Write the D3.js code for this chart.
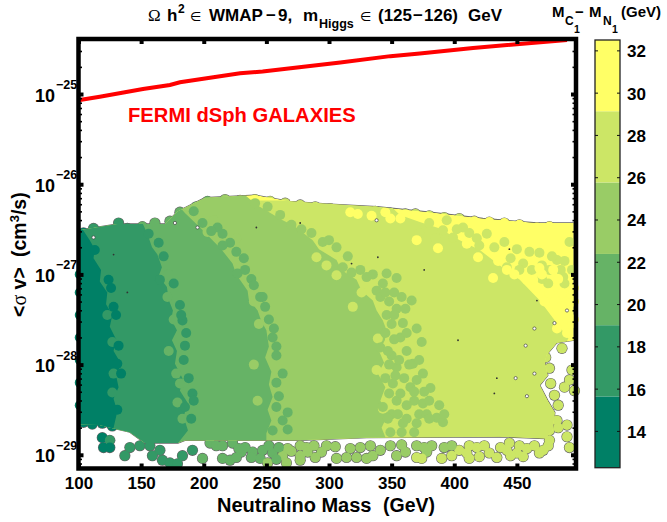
<!DOCTYPE html>
<html><head><meta charset="utf-8">
<script src="https://cdn.jsdelivr.net/npm/d3@7/dist/d3.min.js"></script>
<style>
html,body{margin:0;padding:0;background:#fff}
svg{display:block}
text{font-family:"Liberation Sans",Arial,sans-serif;font-weight:bold;fill:#000}
.sym{font-family:"Liberation Serif",serif;font-weight:normal}
.dj{font-family:"DejaVu Sans",sans-serif;font-weight:normal}
</style></head><body>
<svg id="c" width="667" height="522"></svg>
<script>
// ---- data (mass in GeV, log10 of <sigma v> in cm3/s, mass gap in GeV) ----
const xTicks=[100,150,200,250,300,350,400,450];
const yExponents=[-25,-26,-27,-28,-29];
const minorMultiples=[2,3,4,5,6,7,8,9];
const barTicks=[14,16,18,20,22,24,26,28,30,32];
const gapLevels=[12.26,15.63,19,22.37,25.75,29.12,32.49];
const gapColors=["#008066","#339966","#66b366","#99cc66","#cce666","#ffff66"];
const fermiLimit=[[101,-25.067],[117,-25.03],[151.5,-24.944],[173,-24.90],[181,-24.87],[229,-24.77],[247,-24.75],[309,-24.65],[349,-24.58],[372.5,-24.55],[415,-24.49],[490,-24.40]];
const envelope=[[100.4,-26.51],[131.5,-26.44],[169,-26.44],[179.4,-26.30],[201,-26.15],[240.9,-26.12],[268.8,-26.19],[300.7,-26.22],[338.2,-26.25],[380.5,-26.31],[422.8,-26.38],[465.9,-26.43],[495.4,-26.43],[495.4,-27.73],[481.8,-27.76],[473.9,-27.89],[472.3,-27.97],[474.7,-28.12],[468.3,-28.23],[474.7,-28.40],[480.3,-28.53],[478.7,-28.73],[472.3,-28.82],[436.4,-28.80],[330,-28.81],[276.8,-28.84],[185,-28.84],[179.4,-28.87],[153,-28.87],[141,-28.75],[129,-28.71],[117,-28.67],[100.4,-28.66]];
const edge14=[[101,-26.2],[102.8,-26.49],[109,-26.62],[113,-26.72],[112,-26.82],[118,-26.95],[117,-27.08],[123,-27.2],[122,-27.33],[127,-27.45],[125,-27.58],[130,-27.72],[128,-27.85],[134,-27.99],[130,-28.12],[132,-28.25],[128,-28.38],[131,-28.52],[128,-28.7],[128,-29.2]];
const edge17=[[140,-26.2],[150.7,-26.42],[155,-26.55],[158.7,-26.70],[163,-26.78],[166.6,-26.92],[164,-27.02],[170.6,-27.14],[172,-27.28],[175.4,-27.40],[174,-27.5],[178.6,-27.62],[174.6,-27.73],[178.6,-27.85],[177,-27.99],[183,-28.15],[181,-28.29],[187,-28.42],[184,-28.58],[187.4,-28.73],[179.4,-28.87],[179.4,-29.2]];
const edge21=[[170,-26.1],[179.4,-26.23],[185,-26.32],[197,-26.48],[207,-26.62],[214,-26.72],[223,-26.88],[226,-27.0],[235,-27.18],[236,-27.28],[243,-27.40],[246,-27.52],[250,-27.62],[252,-27.8],[249,-27.92],[254,-28.08],[252,-28.22],[255,-28.36],[251,-28.5],[254,-28.62],[250,-28.76],[250,-29.2]];
const edge24=[[229,-26.07],[234.5,-26.14],[242.4,-26.23],[263,-26.40],[272,-26.46],[287,-26.62],[292,-26.72],[306,-26.84],[310,-26.95],[322,-27.06],[326,-27.18],[335,-27.29],[338,-27.4],[343,-27.51],[346,-27.62],[344.6,-27.73],[340,-27.85],[344,-27.98],[339,-28.1],[345,-28.25],[341,-28.40],[347,-28.55],[342,-28.7],[346,-28.84],[346,-29.2]];
const edge27=[[344.6,-26.18],[356.6,-26.34],[372.5,-26.42],[388.5,-26.49],[404.4,-26.62],[420.4,-26.73],[436.4,-26.90],[452.3,-27.06],[468.3,-27.29],[480.3,-27.51],[492.3,-27.73],[500,-27.84],[500,-29.2]];
const topEdge=[[104,-26.54,14],[112,-26.49,17],[124,-26.52,17],[132,-26.43,17],[139,-26.49,17],[151,-26.47,21],[161,-26.43,21],[173,-26.41,21],[181,-26.31,21],[186,-26.33,24],[194,-26.25,21],[203,-26.19,21],[217,-26.17,24],[229,-26.18,27],[241,-26.17,27],[253,-26.19,27],[265,-26.21,27],[277,-26.23,27],[289,-26.25,27],[301,-26.27,27],[313,-26.30,27],[325,-26.30,27],[337,-26.30,27],[349,-26.32,27],[361,-26.33,27],[369,-26.33,27],[380,-26.35,27],[392,-26.37,27],[404,-26.38,27],[416,-26.41,31],[428,-26.42,31],[440,-26.43,31],[452,-26.45,31],[466,-26.48,31],[476,-26.47,31],[487,-26.50,31]];
const bottomEdge=[[104,-28.64,14],[111,-28.66,14],[119,-28.65,14],[127,-28.68,14],[119,-28.81,14],[120,-28.92,14],[125,-28.84,17],[125,-28.92,14],[137,-29.01,17],[141,-28.92,17],[149,-28.90,17],[157,-28.90,17],[159,-29.01,17],[165,-28.95,17],[167,-29.06,17],[173,-29.09,17],[179,-29.10,17],[183,-29.01,17],[191,-28.95,17],[199,-29.04,21],[205,-28.87,21],[210,-28.90,21],[215,-29.04,21],[221,-29.06,21],[223,-28.87,21],[226,-29.03,21],[230,-28.97,21],[239,-28.97,21],[245,-29.04,21],[247,-28.95,21],[251,-29.09,24],[255,-28.98,21],[263,-29.01,24],[266,-29.09,24],[267,-28.93,24],[277,-28.90,24],[282,-28.92,24],[277,-29.01,24],[277,-29.06,24],[289,-29.03,24],[294,-28.97,24],[298,-28.90,24],[306,-29.04,24],[314,-29.03,24],[317,-28.93,24],[330,-29.04,24],[335,-29.01,24],[341,-28.95,24],[349,-28.90,24],[354,-29.01,24],[361,-28.97,24],[370,-29.03,27],[378,-28.97,24],[382,-28.90,24],[390,-29.04,27],[392,-28.92,24],[398,-29.01,27],[404,-28.95,27],[418,-28.92,27],[428,-28.98,27],[434,-29.03,27],[442,-28.95,27],[444,-28.87,27],[450,-28.98,27],[458,-28.93,27],[471,-28.95,27],[475,-28.90,27],[490,-28.80,27],[492,-28.92,27]];
const bottomFill=[[215,-28.90,21],[233,-28.92,21],[238,-29.03,21],[228,-28.93,21],[252,-28.90,21],[258,-29.05,21],[260,-28.92,21],[270,-28.96,24],[283,-28.97,24],[288,-28.90,24],[305,-28.91,24],[322,-29.03,24],[325,-28.92,24],[333,-28.90,24],[358,-28.89,24],[370,-28.90,24],[374,-29.04,27],[376,-28.92,24],[398,-28.90,24],[410,-28.98,27],[412,-28.90,27],[412,-29.04,27],[420,-29.02,27],[424,-28.90,27],[437,-28.92,27],[445,-29.01,27],[452,-28.90,27],[455,-29.02,27],[464,-28.90,27],[468,-28.98,27]];
const rightEdge=[[473,-27.92,27],[476,-28.04,27],[477,-28.21,27],[480,-28.34,27],[483,-28.45,27],[482,-28.62,27],[476,-28.73,27],[476,-28.84,27],[486,-27.82,27],[488,-28.25,27],[492,-28.17,27],[496,-28.29,27],[494,-28.06,27],[490,-28.67,27],[483,-28.70,27]];
const overhang=[[101,-27.0,14],[101,-27.2,14],[101,-27.45,14],[101,-27.7,14],[101,-27.95,14],[101,-28.2,14],[101,-28.45,14],[495.5,-27.15,31],[495.5,-27.3,31],[495.5,-27.5,31]];
const mix14=[[131,-27.99],[128,-27.36],[113,-26.73],[124,-27.06],[132,-27.79],[126,-27.15],[130,-27.45],[134,-28.1],[131,-28.5]];
const mix17=[[123,-27.45],[127,-28.31],[128,-28.10],[165,-27.06],[185,-27.79],[191,-28.32],[185,-28.47],[181,-27.34],[183,-27.51],[127,-27.75],[168,-26.8],[176,-27.1],[182,-27.45],[186,-27.65],[184,-27.95],[188,-28.15],[192,-28.4],[190,-28.6],[156,-26.55],[164,-26.65]];
const mix21=[[199,-26.43],[211,-26.48],[221,-26.65],[215,-26.68],[227,-26.99],[233,-26.95],[245,-27.25],[249,-27.36],[255,-27.70],[258,-27.9],[263,-28.10],[258,-28.47],[263,-28.62],[267,-28.53],[267,-28.72],[255,-28.73],[171,-27.25],[179,-28.42],[181,-28.21],[172,-27.0],[176,-27.5],[172,-27.85],[178,-28.1],[183,-28.6],[192,-26.3],[206,-26.52],[215,-26.55],[226,-26.75],[232,-26.82],[238,-27.05],[240,-27.12],[247,-27.25],[252,-27.5],[256,-27.6],[258,-27.8],[258,-28.2],[260,-28.35]];
const mix24=[[241,-26.21],[251,-26.25],[261,-26.34],[286,-26.54],[295,-26.64],[306,-26.70],[311,-26.92],[325,-26.95],[346,-26.99],[343,-27.10],[354,-27.04],[338,-27.18],[354,-27.38],[346,-27.45],[361,-27.38],[341,-27.25],[330,-27.03],[366,-27.29],[359,-27.54],[374,-27.75],[367,-27.99],[354,-28.03],[343,-28.47],[359,-28.65],[370,-28.65],[375,-28.43],[381,-28.26],[386,-28.59],[354,-28.40],[365,-28.25],[351,-28.21],[341,-27.81],[370,-28.17],[391,-28.64],[203,-26.53],[244,-27.55],[240,-27.3],[236,-27.0],[226,-26.6],[208,-26.4],[240,-28.0],[243,-28.4],[270,-26.45],[278,-26.5],[300,-26.62],[315,-26.8],[318,-26.98],[335,-27.0],[345,-27.2],[352,-27.2],[358,-27.25],[350,-27.55],[357,-27.7],[362,-27.65],[350,-27.9],[362,-27.85],[372,-27.95],[360,-28.15],[375,-28.1],[380,-28.4],[368,-28.4],[362,-28.45],[372,-28.55],[350,-28.55],[362,-28.6],[378,-28.55],[388,-28.45],[392,-28.55],[370,-27.6],[348,-27.3],[352,-27.45],[345,-27.65],[352,-27.72],[347,-27.85],[356,-27.95],[348,-28.0],[345,-28.15],[353,-28.12],[348,-28.32],[357,-28.32],[347,-28.6],[355,-28.55],[349,-28.75],[358,-28.75],[368,-28.75],[364,-28.0],[368,-28.3],[376,-28.3],[380,-28.6]];
const mix27=[[290,-26.81],[306,-27.01],[319,-27.36],[326,-27.20],[298,-26.90],[339,-27.71],[338,-28.06],[343,-28.49],[349,-27.76],[359,-27.99],[354,-28.25],[362,-28.10],[351,-28.65],[380,-26.43],[391,-26.51],[399,-26.59],[407,-26.48],[412,-26.54],[440,-26.64],[442,-26.92],[455,-26.88],[468,-26.76],[476,-26.95],[487,-27.03],[460,-26.75],[482,-26.84],[492,-26.64],[372,-26.54],[394,-26.40],[385,-26.6],[402,-26.5],[418,-26.6],[426,-26.55],[420,-26.68],[432,-26.7],[450,-26.72],[445,-26.82],[452,-26.95],[462,-26.95],[470,-26.9],[478,-26.8],[488,-26.85],[494,-26.95],[485,-26.95],[475,-27.1],[488,-27.1],[470,-27.05]];
const mix31=[[370,-26.62],[387,-26.71],[419,-26.81],[431,-27.04],[442,-26.95],[463,-27.06],[476,-27.21],[486,-27.21],[482,-27.40],[492,-27.32],[490,-27.49],[494,-27.54],[317,-26.31],[323,-26.33],[334,-26.35],[345,-26.31],[357,-26.38],[349,-26.38],[458,-27.06],[468,-26.93],[479,-26.95],[410,-26.66],[435,-26.85],[448,-27.0],[465,-27.15],[472,-27.3],[486,-27.35],[490,-27.65],[482,-27.6],[494,-27.75],[495,-27.2],[470,-27.0],[483,-27.05]];
const holes=[[338,-26.40],[457,-27.79],[464,-28.10],[449,-28.15],[458,-28.35],[490,-27.40],[464,-27.60],[480,-27.54],[177,-26.43],[195,-26.48],[112,-26.59]];
const specks=[[128,-26.78],[139,-27.20],[318,-26.88],[444,-26.72],[434,-28.15],[432,-28.32],[376,-26.95],[277,-26.43],[339,-26.81],[242,-26.48],[466,-27.29],[403,-27.73]];

// ---- layout ----
const L=78.5,R=576,T=39,B=468.5, BL=595,BR=620,BT=40,BB=467.7;
const x=d3.scaleLinear().domain([100,497.2]).range([L,R]);
const y=d3.scaleLog().domain([Math.pow(10,-24.39),Math.pow(10,-29.152)]).range([T,B]);
const py=e=>y(Math.pow(10,e));
const bar=d3.scaleLinear().domain([12.26,32.49]).range([BB,BT]);
const col=d3.scaleThreshold().domain(gapLevels.slice(1,-1)).range(gapColors);
const svg=d3.select("#c");
const R0=5;
const defs=svg.append("defs");
defs.append("clipPath").attr("id","plot").append("rect").attr("x",L-4.5).attr("y",T).attr("width",R-L+9).attr("height",B-T);
const line=d3.line().x(d=>x(d[0])).y(d=>py(d[1]));
defs.append("clipPath").attr("id","env").append("path").attr("d",line(envelope)+"Z");

const g=svg.append("g").attr("clip-path","url(#plot)");
const edgePts=topEdge.concat(bottomEdge,bottomFill,rightEdge);
// dark outline of the scatter union, then the fills on top
g.append("path").attr("d",line(envelope)+"Z").attr("fill","none").attr("stroke","#666").attr("stroke-width",1.3);
g.append("g").selectAll("circle").data(edgePts).join("circle")
 .attr("cx",d=>x(d[0])).attr("cy",d=>py(d[1])).attr("r",R0+0.6).attr("fill","#666");
g.append("g").selectAll("circle").data(edgePts.concat(overhang)).join("circle")
 .attr("cx",d=>x(d[0])).attr("cy",d=>py(d[1])).attr("r",R0).attr("fill",d=>col(d[2]));

// solid bands, highest first, clipped to envelope
const bandG=g.append("g").attr("clip-path","url(#env)");
bandG.append("path").attr("d",line(envelope)+"Z").attr("fill",gapColors[5]);
[[edge27,4],[edge24,3],[edge21,2],[edge17,1],[edge14,0]].forEach(([e,i])=>{
  const last=e[e.length-1], first=e[0];
  const poly=[[90,first[1]]].concat(e,[[90,last[1]]]);
  bandG.append("path").attr("d",line(poly)+"Z").attr("fill",gapColors[i]);
});
// mixed scatter near the band edges
const mixG=g.append("g").attr("clip-path","url(#env)");
[[mix27,4],[mix31,5],[mix24,3],[mix21,2],[mix17,1],[mix14,0]].forEach(([pts,i])=>{
  mixG.append("g").selectAll("circle").data(pts).join("circle")
   .attr("cx",d=>x(d[0])).attr("cy",d=>py(d[1])).attr("r",R0).attr("fill",gapColors[i]);
});
g.append("g").selectAll("circle").data(holes).join("circle")
 .attr("cx",d=>x(d[0])).attr("cy",d=>py(d[1])).attr("r",1.6).attr("fill","#fff").attr("stroke","#444").attr("stroke-width",.7);
g.append("g").selectAll("circle").data(specks).join("circle")
 .attr("cx",d=>x(d[0])).attr("cy",d=>py(d[1])).attr("r",.9).attr("fill","#333");

// limit curve
svg.append("path").attr("d",line(fermiLimit)).attr("fill","none").attr("stroke","#f00").attr("stroke-width",4);

// frame and axes
function styleAxis(sel){sel.selectAll(".domain").remove();sel.selectAll(".tick line").attr("stroke","#000").attr("stroke-width",4);}
const minorVals=yExponents.concat([-30]).flatMap(e=>minorMultiples.map(m=>m*Math.pow(10,e))).filter(v=>v<y.domain()[0]&&v>y.domain()[1]);
svg.append("g").attr("transform",`translate(0,${B})`)
 .call(d3.axisBottom(x).tickValues(xTicks).tickSize(-5).tickPadding(8.5).tickFormat(d3.format("d")))
 .call(styleAxis).call(s=>s.selectAll("text").style("font-size","17px").style("font-family",null).attr("fill","#000"));
svg.append("g").attr("transform",`translate(0,${T})`)
 .call(d3.axisTop(x).tickValues(xTicks).tickSize(-5).tickFormat("")).call(styleAxis);
svg.append("g").attr("transform",`translate(${L},0)`)
 .call(d3.axisLeft(y).tickValues(yExponents.map(e=>Math.pow(10,e))).tickSize(-5).tickFormat(()=>"")).call(styleAxis);
svg.append("g").attr("transform",`translate(${R},0)`)
 .call(d3.axisRight(y).tickValues(yExponents.map(e=>Math.pow(10,e))).tickSize(-5).tickFormat("")).call(styleAxis);
[[L,d3.axisLeft],[R,d3.axisRight]].forEach(([px,ax])=>{
  svg.append("g").attr("transform",`translate(${px},0)`)
   .call(ax(y).tickValues(minorVals).tickSize(-3.5).tickFormat(""))
   .call(s=>s.select(".domain").remove()).call(s=>s.selectAll(".tick line").attr("stroke","#000").attr("stroke-width",1.6));
});
yExponents.forEach(e=>{
  const yy=py(e);
  svg.append("text").attr("x",35).attr("y",yy+7.5).style("font-size","18px").text("10");
  svg.append("text").attr("x",56).attr("y",yy-5).style("font-size","12.5px").text("\u2212"+(-e));
});
svg.append("rect").attr("x",L).attr("y",T).attr("width",R-L).attr("height",B-T).attr("fill","none").attr("stroke","#000").attr("stroke-width",4.5);

// texts
const t=(xp,yp,s,fs,cls)=>svg.append("text").attr("x",xp).attr("y",yp).style("font-size",fs+"px").attr("class",cls||null).text(s);
t(128,121.5,"FERMI dSph GALAXIES",20.2).style("fill","#f00");
t(217,511.5,"Neutralino Mass",20);
t(383,511.5,"(GeV)",19.5);
// title
t(148,20.5,"\u03a9",17,"sym");
t(167,20.5,"h",17);
t(178,13,"2",12);
t(190,20.5,"\u2208",13,"dj");
t(209,20.5,"WMAP",17);
t(266,20.5,"\u2212",17);
t(278,20.5,"9,",17);
t(303,20.5,"m",17);
t(319,28,"Higgs",12.5);
t(360,20.5,"\u2208",13,"dj");
t(378,20.5,"(125",17);
t(413,20.5,"\u2212",17);
t(424,20.5,"126)",17);
t(468,20.5,"GeV",17);
// colourbar title
t(552,17,"M",15);
t(565,25,"C",12);
t(574,33,"1",10.5);
t(575,17,"\u2212",15);
t(589,17,"M",15);
t(603,25,"N",12);
t(612,33,"1",10.5);
t(621,17,"(GeV)",15);
// y title
const yt=svg.append("text").attr("transform","translate(26,317) rotate(-90)").style("font-size","19.5px");
yt.append("tspan").text("<");
yt.append("tspan").attr("class","sym").style("font-size","20px").text("\u03c3");
yt.append("tspan").text(" v>");
const yt2=svg.append("text").attr("transform","translate(26,257) rotate(-90)").style("font-size","19.5px");
yt2.append("tspan").text("(cm");
yt2.append("tspan").attr("dy",-7).style("font-size","13px").text("3");
yt2.append("tspan").attr("dy",7).text("/s)");

// colourbar
svg.append("g").selectAll("rect").data(gapColors).join("rect")
 .attr("x",BL).attr("width",BR-BL)
 .attr("y",(d,i)=>bar(gapLevels[i+1])).attr("height",(d,i)=>bar(gapLevels[i])-bar(gapLevels[i+1])).attr("fill",d=>d);
svg.append("rect").attr("x",BL).attr("y",BT).attr("width",BR-BL).attr("height",BB-BT).attr("fill","none").attr("stroke","#222").attr("stroke-width",1.3);
const bAx=svg.append("g").attr("transform",`translate(${BR},0)`)
 .call(d3.axisRight(bar).tickValues(barTicks).tickSize(-3).tickPadding(7).tickFormat(d3.format("d")));
bAx.select(".domain").remove();
bAx.selectAll(".tick line").attr("stroke","#111");
bAx.selectAll("text").style("font-size","17px").style("font-family",null).attr("fill","#000").attr("dy",".38em");
svg.append("g").attr("transform",`translate(${BL},0)`)
 .call(d3.axisLeft(bar).tickValues(barTicks).tickSize(-3).tickFormat(""))
 .call(s=>s.select(".domain").remove()).call(s=>s.selectAll(".tick line").attr("stroke","#111"));
</script></body></html>
